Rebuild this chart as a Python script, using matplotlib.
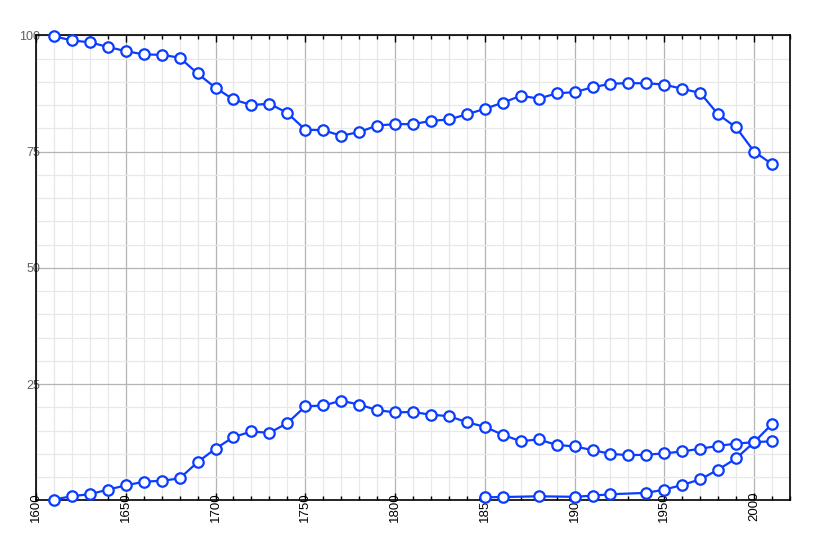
import matplotlib
matplotlib.use("Agg")
import matplotlib.pyplot as plt
from matplotlib.ticker import MultipleLocator

# years sampled every decade
years_a = [1610, 1620, 1630, 1640, 1650, 1660, 1670, 1680, 1690, 1700,
           1710, 1720, 1730, 1740, 1750, 1760, 1770, 1780, 1790, 1800,
           1810, 1820, 1830, 1840, 1850, 1860, 1870, 1880, 1890, 1900,
           1910, 1920, 1930, 1940, 1950, 1960, 1970, 1980, 1990, 2000, 2010]

top_series = [99.8, 98.9, 98.5, 97.5, 96.6, 95.9, 95.8, 95.2, 91.8, 88.7,
              86.2, 85.0, 85.3, 83.3, 79.7, 79.6, 78.4, 79.2, 80.6, 80.9,
              80.9, 81.6, 81.9, 83.0, 84.2, 85.5, 87.0, 86.4, 87.5, 87.8,
              88.8, 89.6, 89.7, 89.7, 89.4, 88.5, 87.6, 83.0, 80.2, 75.0, 72.3]

mid_series = [0.15, 0.9, 1.3, 2.3, 3.2, 4.0, 4.2, 4.7, 8.2, 11.1,
              13.6, 14.8, 14.5, 16.6, 20.2, 20.4, 21.4, 20.6, 19.4, 18.9,
              19.0, 18.4, 18.1, 16.8, 15.8, 14.1, 12.7, 13.1, 11.9, 11.6,
              10.8, 10.0, 9.7, 9.8, 10.1, 10.5, 11.1, 11.7, 12.2, 12.5, 12.7]

years_b = [1850, 1860, 1880, 1900, 1910, 1920, 1940, 1950, 1960, 1970,
           1980, 1990, 2000, 2010]
low_series = [0.65, 0.7, 0.86, 0.75, 1.0, 1.3, 1.6, 2.3, 3.3, 4.5,
              6.6, 9.0, 12.5, 16.4]

x_ticks = [1600, 1650, 1700, 1750, 1800, 1850, 1900, 1950, 2000]
y_ticks = [25, 50, 75, 100]

blue = "#0a3dff"

fig = plt.figure(figsize=(8.26, 5.36), dpi=100)
ax = fig.add_axes([0.0436, 0.0666, 0.9128, 0.8675])

for xs, ys in [(years_a, top_series), (years_a, mid_series), (years_b, low_series)]:
    ax.plot(xs, ys, color=blue, lw=1.6, marker="o", ms=7.5,
            mfc="white", mec=blue, mew=1.6, zorder=3, clip_on=False)

ax.set_xlim(1600, 2020)
ax.set_ylim(0, 100)

ax.set_xticks(x_ticks)
ax.set_xticklabels([str(t) for t in x_ticks], rotation=90,
                   fontsize=9.5, family="Liberation Sans")
ax.xaxis.set_minor_locator(MultipleLocator(10))
ax.set_yticks(y_ticks)
ax.set_yticklabels([str(t) for t in y_ticks], fontsize=9,
                   family="Liberation Sans", color="#606060")
ax.yaxis.set_minor_locator(MultipleLocator(5))

ax.grid(which="major", color="#b4b4b4", lw=0.9)
ax.grid(which="minor", color="#e8e8e8", lw=0.9)
ax.set_axisbelow(True)

ax.tick_params(axis="x", which="both", direction="in", top=True, bottom=True,
               color="black", pad=-6)
ax.tick_params(axis="x", which="major", length=5, width=1)
ax.tick_params(axis="x", which="minor", length=3, width=1)
ax.tick_params(axis="y", which="both", length=0, pad=-3)

for s in ax.spines.values():
    s.set_linewidth(1.2)
    s.set_color("black")

fig.savefig("out.png", dpi=100)
